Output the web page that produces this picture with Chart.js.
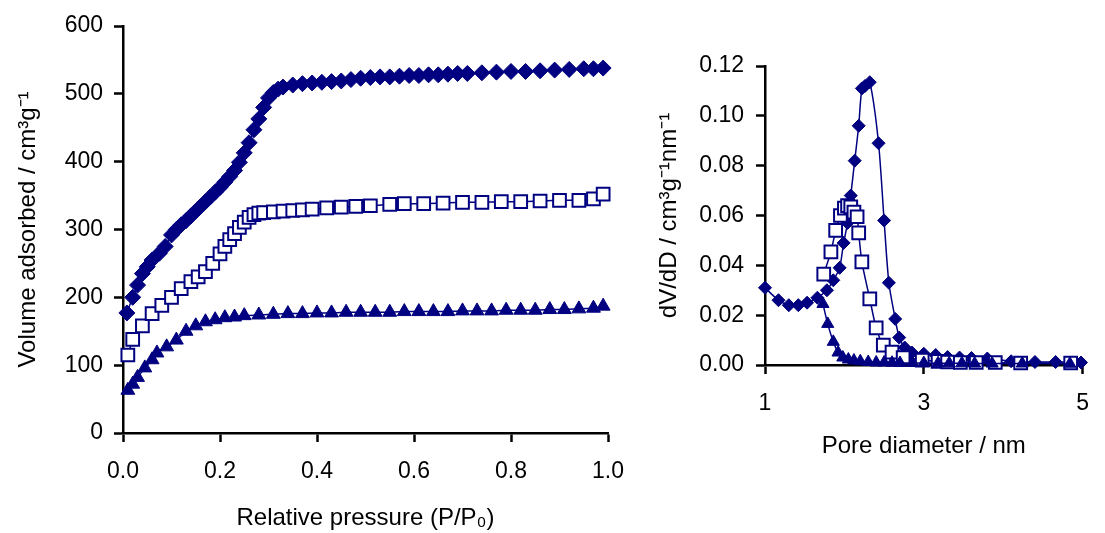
<!DOCTYPE html>
<html>
<head>
<meta charset="utf-8">
<script src="https://cdn.jsdelivr.net/npm/chart.js@4/dist/chart.umd.min.js"></script>
<style>
  html, body { margin: 0; padding: 0; background: #fff; }
  #wrap { position: relative; width: 1105px; height: 533px; overflow: hidden; }
  #boxL { position: absolute; left: 0; top: 0; width: 640px; height: 533px; }
  #boxR { position: absolute; left: 640px; top: 0; width: 465px; height: 470px; }
</style>
</head>
<body>
<div id="wrap">
  <div id="boxL"><canvas id="isotherm"></canvas></div>
  <div id="boxR"><canvas id="psd"></canvas></div>
</div>
<script>
// -- ISOTHERMS (left) --

const isoA_p = [0.008,0.02,0.03,0.04,0.05,0.06,0.075,0.087,0.1,0.11,0.12,0.13,0.14,0.15,0.16,0.17,0.18,0.19,0.2,0.21,0.22,0.23,0.24,0.25,0.26,0.27,0.28,0.29,0.3,0.31,0.32,0.33,0.35,0.37,0.39,0.41,0.43,0.45,0.47,0.49,0.51,0.53,0.55,0.57,0.59,0.61,0.63,0.65,0.67,0.69,0.71,0.74,0.77,0.8,0.83,0.86,0.89,0.92,0.95,0.97,0.99];
const isoA_v = [177,200,218,235,245,255,265,275,292,300,307,313,320,327,334,341,348,355,362,370,378,387,399,413,428,447,463,480,494,502,507,510,513,515,516,517,518,519,521,523,524,525,525,526,527,527,528,528,529,530,530,531,532,533,533,534,535,536,537,537,538];

const isoB_p = [0.01,0.02,0.04,0.06,0.08,0.1,0.12,0.14,0.155,0.17,0.185,0.2,0.21,0.22,0.23,0.24,0.25,0.26,0.27,0.28,0.29,0.31,0.33,0.35,0.37,0.39,0.42,0.45,0.48,0.51,0.55,0.58,0.62,0.66,0.7,0.74,0.78,0.82,0.86,0.9,0.94,0.97,0.99];
const isoB_v = [115,138,158,176,188,200,213,223,230,238,250,264,275,285,294,303,311,318,322,324,325,326,327,328,329,330,332,333,334,335,337,338,338,339,340,340,341,341,342,343,343,345,352];

const isoC_p = [0.01,0.02,0.03,0.045,0.06,0.07,0.09,0.11,0.13,0.15,0.17,0.19,0.21,0.23,0.25,0.28,0.31,0.34,0.37,0.4,0.43,0.46,0.49,0.52,0.55,0.58,0.61,0.64,0.67,0.7,0.73,0.76,0.79,0.82,0.85,0.88,0.91,0.94,0.97,0.99];
const isoC_v = [63,72,82,96,108,118,127,137,150,158,164,167,170,171,173,174,175,176,176,177,177,178,178,178,178,179,179,179,179,180,180,180,181,181,181,182,182,183,184,187];

const isoX_ticks = [0, 0.2, 0.4, 0.6, 0.8, 1.0];

// -- PORE SIZE DISTRIBUTION (right) --

const psdA_d = [1.0,1.17,1.3,1.42,1.53,1.66,1.78,1.86,1.94,1.99,2.04,2.08,2.13,2.18,2.22,2.26,2.32,2.43,2.5,2.56,2.64,2.69,2.76,2.85,3.0,3.15,3.3,3.45,3.6,3.8,4.1,4.4,4.66,4.98];
const psdA_v = [0.031,0.026,0.024,0.024,0.025,0.027,0.030,0.034,0.039,0.049,0.057,0.068,0.082,0.096,0.111,0.112,0.1135,0.089,0.058,0.033,0.0185,0.011,0.007,0.005,0.0045,0.004,0.0032,0.003,0.0028,0.0026,0.0015,0.0012,0.0012,0.001];

const psdB_d = [1.74,1.83,1.89,1.95,2.0,2.04,2.08,2.12,2.16,2.18,2.22,2.32,2.4,2.49,2.6,2.74,2.98,3.18,3.3,3.46,3.66,3.9,4.22,4.85];
const psdB_v = [0.0365,0.0454,0.054,0.060,0.063,0.064,0.0635,0.0614,0.0595,0.053,0.0414,0.0265,0.0149,0.008,0.0052,0.003,0.002,0.0015,0.0012,0.001,0.001,0.001,0.0008,0.0008];

const psdC_d = [1.73,1.79,1.86,1.92,1.98,2.05,2.12,2.2,2.3,2.4,2.5,2.6,2.7,2.86,3.0,3.18,3.32,3.48,3.64,3.86,4.24,4.84];
const psdC_v = [0.0245,0.0165,0.0093,0.005,0.003,0.0022,0.0018,0.0015,0.0012,0.001,0.001,0.0009,0.0008,0.0008,0.0008,0.0007,0.0007,0.0007,0.0006,0.0006,0.0006,0.0005];

// -- HELPERS --

const NAVY = '#000080';
const FONT = "'Liberation Sans', Arial, sans-serif";

function pts(xs, ys) {
  return xs.map((x, i) => ({ x: x, y: ys[i] }));
}

function series(xs, ys, style, r, hollow, order, tension) {
  return {
    data: pts(xs, ys),
    borderColor: NAVY,
    borderWidth: 1.5,
    backgroundColor: NAVY,
    pointStyle: style,
    pointRadius: r,
    pointBackgroundColor: hollow ? '#fff' : NAVY,
    pointBorderColor: NAVY,
    pointBorderWidth: hollow ? 2 : 1,
    tension: tension,
    clip: false,
    order: order
  };
}

function axisGrid() {
  return {
    drawOnChartArea: false,
    drawTicks: true,
    tickLength: 9,
    tickWidth: 2.5,
    tickColor: '#000'
  };
}

const border = { display: true, color: '#000', width: 2.5 };
const tickFont = { family: FONT, size: 23 };
const titleFont = { family: FONT, size: 24 };

// -- LEFT CHART --

new Chart('isotherm', {
  type: 'line',
  data: {
    datasets: [
      series(isoA_p, isoA_v, 'rectRot', 8, false, 2, 0),
      series(isoB_p, isoB_v, 'rect', 9, true, 1, 0),
      series(isoC_p, isoC_v, 'triangle', 8, false, 0, 0)
    ]
  },
  options: {
    responsive: true,
    maintainAspectRatio: false,
    animation: false,
    layout: { padding: { left: 0, top: 26, right: 32, bottom: 0 } },
    plugins: { legend: { display: false }, tooltip: { enabled: false } },
    scales: {
      x: {
        type: 'linear',
        min: 0, max: 1,
        afterBuildTicks: s => { s.ticks = isoX_ticks.map(v => ({ value: v })); },
        afterFit: s => { s.height = 100; },
        grid: axisGrid(),
        border: border,
        ticks: { color: '#000', font: tickFont, padding: 16, maxRotation: 0,
                 callback: v => v.toFixed(1) },
        title: { display: true, text: 'Relative pressure (P/P\u2080)', color: '#000',
                 font: titleFont, padding: { top: 0, bottom: 0 } }
      },
      y: {
        min: 0, max: 600,
        ticks: { stepSize: 100, color: '#000', font: tickFont, padding: 11 },
        afterFit: s => { s.width = 123; },
        grid: axisGrid(),
        border: border,
        title: { display: true, text: 'Volume adsorbed / cm\u00b3g\u207b\u00b9', color: '#000',
                 font: titleFont, padding: { top: 14, bottom: 0 } }
      }
    }
  }
});

// -- RIGHT CHART --

new Chart('psd', {
  type: 'line',
  data: {
    datasets: [
      series(psdA_d, psdA_v, 'rectRot', 6.5, false, 2, 0.25),
      series(psdB_d, psdB_v, 'rect', 9, true, 1, 0.25),
      series(psdC_d, psdC_v, 'triangle', 7, false, 0, 0.25)
    ]
  },
  options: {
    responsive: true,
    maintainAspectRatio: false,
    animation: false,
    layout: { padding: { left: 0, top: 66, right: 7, bottom: 0 } },
    plugins: { legend: { display: false }, tooltip: { enabled: false } },
    scales: {
      x: {
        type: 'linear',
        min: 1, max: 5,
        ticks: { stepSize: 2, color: '#000', font: tickFont, padding: 16, maxRotation: 0 },
        afterFit: s => { s.height = 105; },
        grid: axisGrid(),
        border: border,
        title: { display: true, text: 'Pore diameter / nm', color: '#000',
                 font: titleFont, padding: { top: 0, bottom: 9 } }
      },
      y: {
        min: 0, max: 0.12,
        ticks: { stepSize: 0.02, color: '#000', font: tickFont, padding: 12,
                 callback: v => v.toFixed(2) },
        afterFit: s => { s.width = 125; },
        grid: axisGrid(),
        border: border,
        title: { display: true, text: 'dV/dD / cm\u00b3g\u207b\u00b9nm\u207b\u00b9', color: '#000',
                 font: titleFont, padding: { top: 15, bottom: 0 } }
      }
    }
  }
});
</script>
</body>
</html>
